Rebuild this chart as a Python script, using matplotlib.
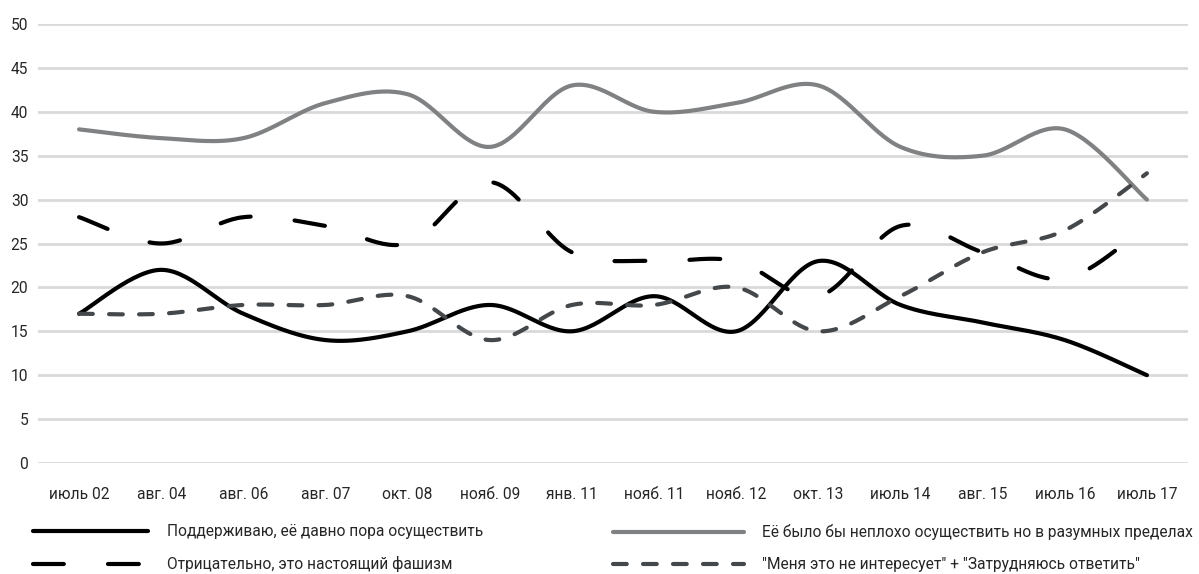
import matplotlib
matplotlib.use("Agg")
import matplotlib.pyplot as plt
import numpy as np
from matplotlib.lines import Line2D

plt.rcParams['font.family'] = ['Roboto', 'DejaVu Sans']

# data
periods = ["июль 02", "авг. 04", "авг. 06", "авг. 07", "окт. 08", "нояб. 09", "янв. 11",
           "нояб. 11", "нояб. 12", "окт. 13", "июль 14", "авг. 15", "июль 16", "июль 17"]
support = [17, 22, 17, 14, 15, 18, 15, 19, 15, 23, 18, 16, 14, 10]
reasonable = [38, 37, 37, 41, 42, 36, 43, 40, 41, 43, 36, 35, 38, 30]
negative = [28, 25, 28, 27, 25, 32, 24, 23, 23, 19, 27, 24, 21, 27]
dont_know = [17, 17, 18, 18, 19, 14, 18, 18, 20, 15, 19, 24, 26.5, 33]

labels = ["Поддерживаю, её давно пора осуществить",
          "Её было бы неплохо осуществить но в разумных пределах",
          "Отрицательно, это настоящий фашизм",
          "\"Меня это не интересует\" + \"Затрудняюсь ответить\""]


def smooth(y, n=30):
    # Excel-style smoothed line (uniform Catmull-Rom)
    y = np.asarray(y, dtype=float)
    x = np.arange(len(y), dtype=float)
    pts = np.column_stack([x, y])
    p = np.vstack([pts[0], pts, pts[-1]])
    out = []
    t = np.linspace(0, 1, n, endpoint=False)[:, None]
    for i in range(1, len(p) - 2):
        p0, p1, p2, p3 = p[i - 1], p[i], p[i + 1], p[i + 2]
        c1 = p1 + (p2 - p0) / 6
        c2 = p2 - (p3 - p1) / 6
        seg = ((1 - t) ** 3) * p1 + 3 * ((1 - t) ** 2) * t * c1 + 3 * (1 - t) * t ** 2 * c2 + t ** 3 * p2
        out.append(seg)
    out.append(pts[-1][None, :])
    out = np.vstack(out)
    return out[:, 0], out[:, 1]


fig = plt.figure(figsize=(11.99, 5.74), dpi=100)
ax = fig.add_axes([38 / 1199, 1 - 463 / 574, 1150 / 1199, 439 / 574])

lw = 3.0
styles = [
    dict(color="#000000", lw=lw, ls="-"),
    dict(color="#7f8183", lw=lw, ls="-"),
    dict(color="#000000", lw=lw, ls=(0, (7.4, 10.6)), dash_capstyle="round"),
    dict(color="#45484b", lw=lw, ls=(0, (3.3, 3.9)), dash_capstyle="round"),
]
series = [support, reasonable, negative, dont_know]

for vals, st in zip(series, styles):
    sx, sy = smooth(vals)
    ax.plot(sx, sy, solid_capstyle="round", clip_on=False, zorder=3, **st)

fs = 11.2

ax.set_xlim(-0.5, 13.5)
ax.set_ylim(0, 50)
ax.set_yticks(np.arange(0, 51, 5))
ax.set_xticks(np.arange(len(periods)))
ax.set_xticklabels(periods)
ax.yaxis.grid(True, color="#d9d9d9", lw=2)
ax.set_axisbelow(True)
for s in ax.spines.values():
    s.set_visible(False)
ax.tick_params(length=0, labelsize=fs, colors="#262626")
ax.tick_params(axis="y", pad=7)
ax.tick_params(axis="x", pad=17)

handles = [Line2D([], [], solid_capstyle="round", **st) for st in styles]

leg1 = fig.legend([handles[0], handles[2]], [labels[0], labels[2]],
                  loc="center left", bbox_to_anchor=(33 / 1199, 1 - 548 / 574),
                  frameon=False, fontsize=fs, handlelength=7.4, handletextpad=1.2,
                  labelspacing=1.1, borderaxespad=0, borderpad=0)
leg2 = fig.legend([handles[1], handles[3]], [labels[1], labels[3]],
                  loc="center left", bbox_to_anchor=(613 / 1199, 1 - 548 / 574),
                  frameon=False, fontsize=fs, handlelength=8.4, handletextpad=1.2,
                  labelspacing=1.1, borderaxespad=0, borderpad=0)
for lg in (leg1, leg2):
    for t in lg.get_texts():
        t.set_color("#262626")

fig.savefig("out.png", dpi=100)
